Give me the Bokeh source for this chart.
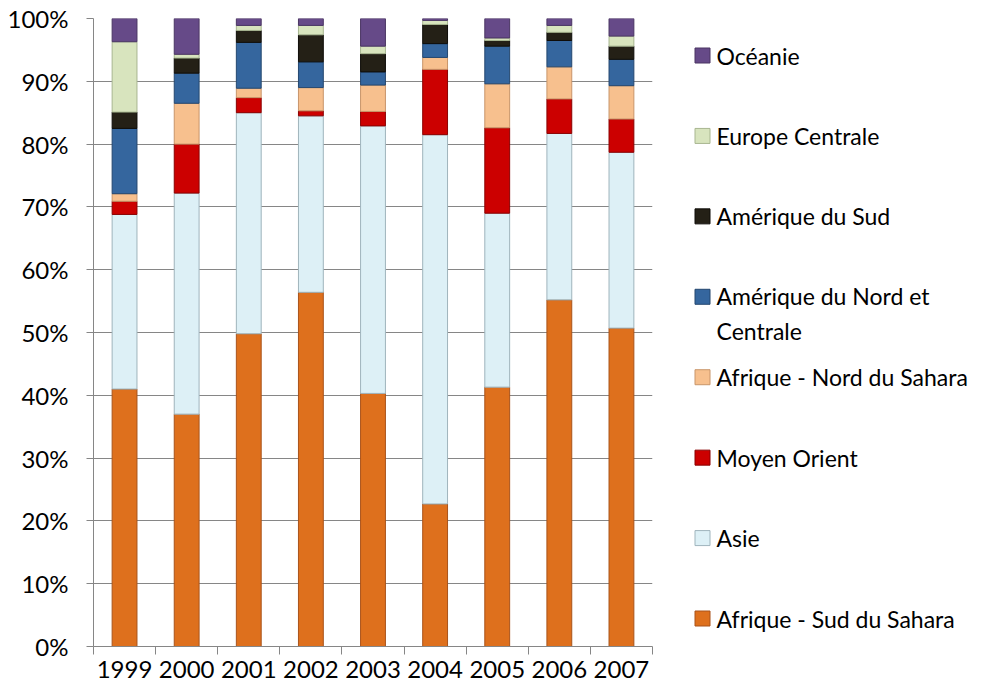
from bokeh.plotting import figure
from bokeh.models import Range1d, FixedTicker, NumeralTickFormatter, ColumnDataSource
from bokeh.layouts import row
from bokeh.embed import file_html
from bokeh.resources import INLINE
from bokeh.core.properties import value

# ---------------- data (percent of total, per year) ----------------
years = ["1999", "2000", "2001", "2002", "2003", "2004", "2005", "2006", "2007"]
series_names = ["Afrique - Sud du Sahara", "Asie", "Moyen Orient", "Afrique - Nord du Sahara",
                "Amérique du Nord et\nCentrale", "Amérique du Sud", "Europe Centrale", "Océanie"]
afrique_sud = [41.0, 37.0, 49.8, 56.4, 40.3, 22.7, 41.3, 55.2, 50.7]
asie = [27.8, 35.2, 35.2, 28.1, 42.6, 58.8, 27.7, 26.5, 28.0]
moyen_orient = [2.1, 7.8, 2.4, 0.8, 2.3, 10.4, 13.6, 5.5, 5.3]
afrique_nord = [1.2, 6.5, 1.5, 3.7, 4.2, 1.9, 7.0, 5.1, 5.3]
amerique_nord = [10.4, 4.8, 7.3, 4.1, 2.1, 2.2, 6.0, 4.2, 4.2]
amerique_sud = [2.6, 2.4, 1.9, 4.3, 2.9, 3.05, 0.9, 1.3, 2.1]
europe_centrale = [11.2, 0.6, 0.8, 1.5, 1.2, 0.65, 0.4, 1.1, 1.6]
oceanie = [3.7, 5.7, 1.1, 1.1, 4.4, 0.3, 3.1, 1.1, 2.8]
y_ticks = [0, 10, 20, 30, 40, 50, 60, 70, 80, 90, 100]

all_series = [afrique_sud, asie, moyen_orient, afrique_nord,
              amerique_nord, amerique_sud, europe_centrale, oceanie]

# ---------------- styles / layout ----------------
FONT = "Lato"
FS = "24px"
FS_LEG = "23px"
GRID = "#868686"
fills = ["#DE701D", "#DDF0F6", "#CC0000", "#F7C08E", "#35669E", "#242016", "#D8E4BE", "#664A88"]
edges = ["#A9531A", "#9FB4BC", "#8A0000", "#C8956A", "#24476F", "#0E0C08", "#A8B690", "#4A3563"]

W_MAIN, W_LEG, H = 690, 282, 684
TOP, BOTTOM, LEFT, RIGHT = 18, 38, 93, 38
FRAME_BOTTOM = H - BOTTOM

keys = [f"s{i}" for i in range(len(all_series))]
data = {"x": list(range(1, len(years) + 1))}
for k, vals in zip(keys, all_series):
    data[k] = [v / 100.0 for v in vals]
src = ColumnDataSource(data)

p = figure(width=W_MAIN, height=H, x_range=Range1d(0.5, len(years) + 0.5), y_range=Range1d(0, 1),
           output_backend="svg", toolbar_location=None,
           min_border_left=LEFT, min_border_right=RIGHT, min_border_top=TOP, min_border_bottom=BOTTOM)
p.outline_line_color = None

p.vbar_stack(keys, x="x", width=0.40, source=src, fill_color=fills, line_color=edges, line_width=1)

# y axis
p.yaxis.ticker = FixedTicker(ticks=[t / 100 for t in y_ticks])
p.yaxis.formatter = NumeralTickFormatter(format="0%")
p.yaxis.axis_line_color = GRID
p.yaxis.major_tick_line_color = GRID
p.yaxis.major_tick_out = 7
p.yaxis.major_tick_in = 0
p.yaxis.minor_tick_line_color = None
p.yaxis.major_label_standoff = 18
p.yaxis.major_label_text_font = FONT
p.yaxis.major_label_text_font_size = FS
p.yaxis.major_label_text_color = "black"

p.ygrid.ticker = FixedTicker(ticks=[t / 100 for t in y_ticks])
p.ygrid.grid_line_color = GRID
p.ygrid.grid_line_width = 1
p.xgrid.visible = False

# x axis: year labels at bar centres, tick marks at category boundaries (minor ticks)
xa = p.xaxis[0]
xa.ticker = FixedTicker(ticks=list(range(1, len(years) + 1)),
                        minor_ticks=[i + 0.5 for i in range(len(years) + 1)])
xa.major_label_overrides = {i + 1: y for i, y in enumerate(years)}
xa.axis_line_color = GRID
xa.major_tick_line_color = None
xa.major_tick_out = 8
xa.major_tick_in = 0
xa.minor_tick_line_color = GRID
xa.minor_tick_out = 8
xa.minor_tick_in = 0
xa.major_label_standoff = 6
xa.major_label_text_font = FONT
xa.major_label_text_font_size = FS
xa.major_label_text_color = "black"

# ---------------- legend panel (page-pixel coordinates) ----------------
lg = figure(width=W_LEG, height=H, x_range=Range1d(W_MAIN, W_MAIN + W_LEG),
            y_range=Range1d(FRAME_BOTTOM, TOP),
            output_backend="svg", toolbar_location=None,
            min_border_left=0, min_border_right=0, min_border_top=TOP, min_border_bottom=BOTTOM,
            x_axis_location=None, y_axis_location=None)
lg.outline_line_color = None
lg.xgrid.visible = False
lg.ygrid.visible = False

order = list(range(len(series_names)))[::-1]
leg_top, leg_pitch, line_gap = 55, 80.43, 33
marker_x, text_x = 702, 716
ys = [leg_top + j * leg_pitch for j in range(len(order))]
labels = [series_names[i] for i in order]
text_y = [y + line_gap / 2 * lab.count("\n") for y, lab in zip(ys, labels)]
lsrc = ColumnDataSource(dict(
    y=ys, ty=text_y, label=labels,
    fill=[fills[i] for i in order], edge=[edges[i] for i in order]))
lg.rect(x=marker_x, y="y", width=15, height=15, fill_color="fill", line_color="edge",
        line_width=1, source=lsrc)
lg.text(x=text_x, y="ty", text="label", source=lsrc, text_baseline="middle", text_align="left",
        text_font=value(FONT), text_font_size=FS_LEG, text_color="black", text_line_height=1.23)

layout = row(p, lg, spacing=0)
open("out.html", "w").write(file_html(layout, INLINE))
